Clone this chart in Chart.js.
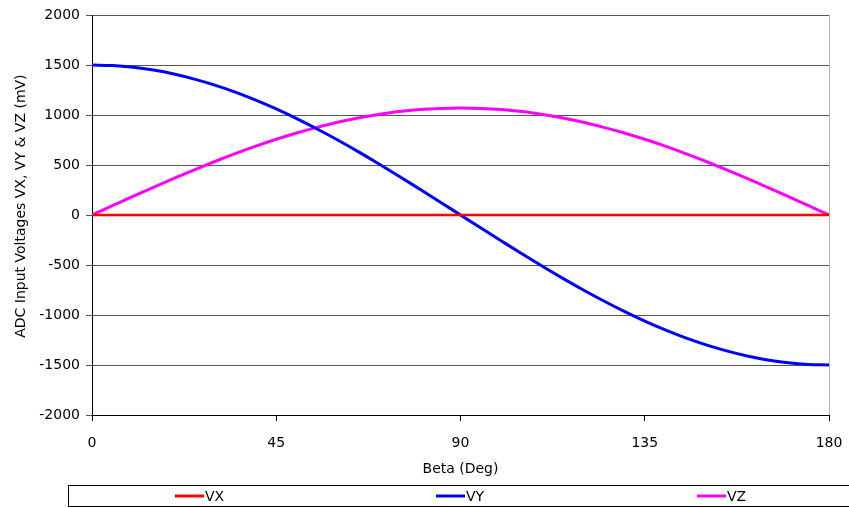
<!DOCTYPE html>
<html>
<head>
<meta charset="utf-8">
<script src="https://cdn.jsdelivr.net/npm/chart.js@4/dist/chart.umd.min.js"></script>
<style>
  html, body { margin: 0; padding: 0; background: #fff; }
  #wrap { width: 849px; height: 508px; }
</style>
</head>
<body>
<div id="wrap"><canvas id="lineChart" width="849" height="508"></canvas></div>
<script>
// values
const beta = [0, 5, 10, 15, 20, 25, 30, 35, 40, 45, 50, 55, 60, 65, 70, 75, 80, 85, 90,
              95, 100, 105, 110, 115, 120, 125, 130, 135, 140, 145, 150, 155, 160, 165, 170, 175, 180];
const vx = [0, 0, 0, 0, 0, 0, 0, 0, 0, 0, 0, 0, 0, 0, 0, 0, 0, 0, 0,
            0, 0, 0, 0, 0, 0, 0, 0, 0, 0, 0, 0, 0, 0, 0, 0, 0, 0];
const vy = [1500, 1494, 1477, 1449, 1410, 1359, 1299, 1229, 1149, 1061, 964, 860, 750, 634, 513, 388, 260, 131, 0,
            -131, -260, -388, -513, -634, -750, -860, -964, -1061, -1149, -1229, -1299, -1359, -1410, -1449, -1477, -1494, -1500];
const vz = [0, 93, 186, 277, 366, 452, 535, 614, 688, 757, 820, 876, 927, 970, 1005, 1034, 1054, 1066, 1070,
            1066, 1054, 1034, 1005, 970, 927, 876, 820, 757, 688, 614, 535, 452, 366, 277, 186, 93, 0];
const seriesNames = ['VX', 'VY', 'VZ'];
const xTicks = [0, 45, 90, 135, 180];

const fontFamily = '"DejaVu Sans", Verdana, sans-serif';

function pts(ys) {
  return beta.map((b, i) => ({ x: b, y: ys[i] }));
}

// legend in a box along the bottom, like the spreadsheet original
const boxLegend = {
  id: 'boxLegend',
  afterDraw(chart) {
    const ctx = chart.ctx;
    ctx.save();
    ctx.strokeStyle = '#000';
    ctx.lineWidth = 1;
    ctx.strokeRect(68.5, 485.5, 790, 21);
    const starts = [175, 436, 697];
    ctx.font = '14px ' + fontFamily;
    ctx.textBaseline = 'middle';
    ctx.fillStyle = '#000';
    chart.data.datasets.forEach((ds, i) => {
      ctx.strokeStyle = ds.borderColor;
      ctx.lineWidth = 3;
      ctx.beginPath();
      ctx.moveTo(starts[i], 496);
      ctx.lineTo(starts[i] + 29, 496);
      ctx.stroke();
      ctx.fillText(ds.label, starts[i] + 30, 497);
    });
    ctx.restore();
  }
};

// right border of the plot area
const plotBorder = {
  id: 'plotBorder',
  beforeDatasetsDraw(chart) {
    const a = chart.chartArea, ctx = chart.ctx;
    ctx.save();
    ctx.strokeStyle = '#b4b4b4';
    ctx.lineWidth = 1;
    ctx.beginPath();
    ctx.moveTo(Math.round(a.right) + 0.5, a.top);
    ctx.lineTo(Math.round(a.right) + 0.5, a.bottom);
    ctx.stroke();
    ctx.restore();
  }
};

new Chart(document.getElementById('lineChart'), {
  type: 'line',
  data: {
    datasets: [
      { label: seriesNames[0], data: pts(vx), borderColor: '#ff0000', borderWidth: 2.5 },
      { label: seriesNames[1], data: pts(vy), borderColor: '#0000ff', borderWidth: 3 },
      { label: seriesNames[2], data: pts(vz), borderColor: '#ff00ff', borderWidth: 3 }
    ]
  },
  options: {
    responsive: false,
    animation: false,
    layout: { padding: { top: 15, right: 20, left: 0, bottom: 0 } },
    elements: {
      point: { radius: 0 },
      line: { tension: 0.4, cubicInterpolationMode: 'monotone' }
    },
    plugins: {
      legend: { display: false },
      tooltip: { enabled: false }
    },
    scales: {
      x: {
        type: 'linear',
        min: 0,
        max: 180,
        afterBuildTicks: (s) => { s.ticks = xTicks.map(v => ({ value: v })); },
        afterFit: (s) => { s.height = 93; s.paddingLeft = 0; s.paddingRight = 0; },
        ticks: { color: '#000', font: { family: fontFamily, size: 14 }, padding: 14, maxRotation: 0, callback: v => String(v) },
        grid: { drawOnChartArea: false, color: '#000', tickLength: 6 },
        border: { color: '#000', width: 1 },
        title: { display: true, text: 'Beta (Deg)', color: '#000', font: { family: fontFamily, size: 14 }, padding: { top: 0, bottom: 30 } }
      },
      y: {
        min: -2000,
        max: 2000,
        afterFit: (s) => { s.width = 92; s.paddingTop = 0; s.paddingBottom = 0; },
        ticks: { stepSize: 500, color: '#000', font: { family: fontFamily, size: 14 }, padding: 6, callback: v => String(v) },
        grid: { color: '#555', tickLength: 6 },
        border: { color: '#000', width: 1 },
        title: { display: true, text: '    ADC Input Voltages VX, VY & VZ (mV)', color: '#000', font: { family: fontFamily, size: 14 }, padding: { top: 13, bottom: 0 } }
      }
    }
  },
  plugins: [plotBorder, boxLegend]
});
</script>
</body>
</html>
